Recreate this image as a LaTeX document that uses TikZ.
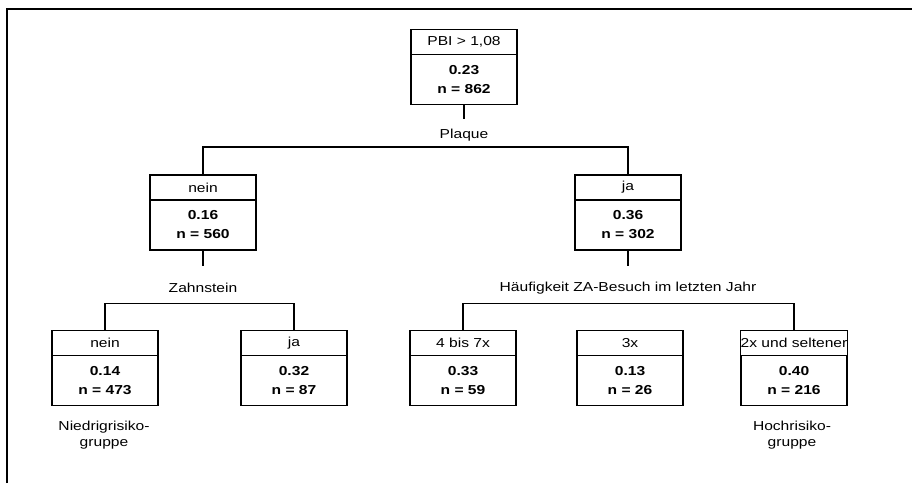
\documentclass[tikz,border=0pt]{standalone}
\usepackage{fontspec}
\setmainfont{Liberation Sans}[FakeStretch=1.2]
\usetikzlibrary{positioning}

\tikzset{
    head/.style={draw, line width=1.6pt, outer sep=0pt, inner sep=0pt,
        minimum width=106pt, minimum height=25pt,
        font=\fontsize{13}{15}\selectfont},
    vals/.style={draw, line width=1.6pt, outer sep=0pt, inner sep=0pt,
        minimum width=106pt, minimum height=50pt, align=center,
        font=\bfseries\fontsize{13}{19}\selectfont},
    cond/.style={inner sep=0pt, font=\fontsize{13}{15}\selectfont},
    group/.style={inner sep=0pt, align=center, font=\fontsize{13}{16}\selectfont},
    conn/.style={line width=1.5pt}
}

\begin{document}
\begin{tikzpicture}[x=1pt, y=-1pt]
    \useasboundingbox (0,0) rectangle (912,483);

    % Frame (cut off at right and bottom)
    \draw[line width=2pt] (7,483) -- (7,9) -- (912,9);

    % Root
    \node[head] (root) at (464,42) {PBI > 1,08};
    \node[vals, below=0pt of root] (rootv) {0.23\\n = 862};

    % Plaque split
    \coordinate (d1) at (464,119);
    \node[cond] (plq) at (464,135) {Plaque};
    \coordinate (b1) at (464,147);
    \node[head] (nein) at (203,187.5) {nein};
    \node[vals, below=0pt of nein] (neinv) {0.16\\n = 560};
    \node[head] (ja) at (628,187.5) {ja};
    \node[vals, below=0pt of ja] (jav) {0.36\\n = 302};
    \draw[conn] (rootv.south) -- (d1);
    \draw[conn] (nein.north) |- (b1) -| (ja.north);

    % Zahnstein split
    \coordinate (d2) at (203,266);
    \node[cond] (zst) at (203,288) {Zahnstein};
    \coordinate (b2) at (203,303.5);
    \node[head] (zn) at (105,343) {nein};
    \node[vals, below=0pt of zn] (znv) {0.14\\n = 473};
    \node[head] (zj) at (294,343) {ja};
    \node[vals, below=0pt of zj] (zjv) {0.32\\n = 87};
    \draw[conn] (neinv.south) -- (d2);
    \draw[conn] (zn.north) |- (b2) -| (zj.north);

    % ZA-Besuch split
    \coordinate (d3) at (628,266);
    \node[cond] (zab) at (628,288) {Häufigkeit ZA-Besuch im letzten Jahr};
    \coordinate (b3) at (628,303.5);
    \node[head] (h1) at (463,343) {4 bis 7x};
    \node[vals, below=0pt of h1] (h1v) {0.33\\n = 59};
    \node[head] (h2) at (630,343) {3x};
    \node[vals, below=0pt of h2] (h2v) {0.13\\n = 26};
    \node[head] (h3) at (794,343) {2x und seltener};
    \node[vals, below=0pt of h3] (h3v) {0.40\\n = 216};
    \draw[conn] (jav.south) -- (d3);
    \draw[conn] (h1.north) |- (b3) -| (h3.north);

    % Risk groups
    \node[group] (low) at (104,435) {Niedrigrisiko-\\gruppe};
    \node[group] (high) at (792,435) {Hochrisiko-\\gruppe};

\end{tikzpicture}
\end{document}
